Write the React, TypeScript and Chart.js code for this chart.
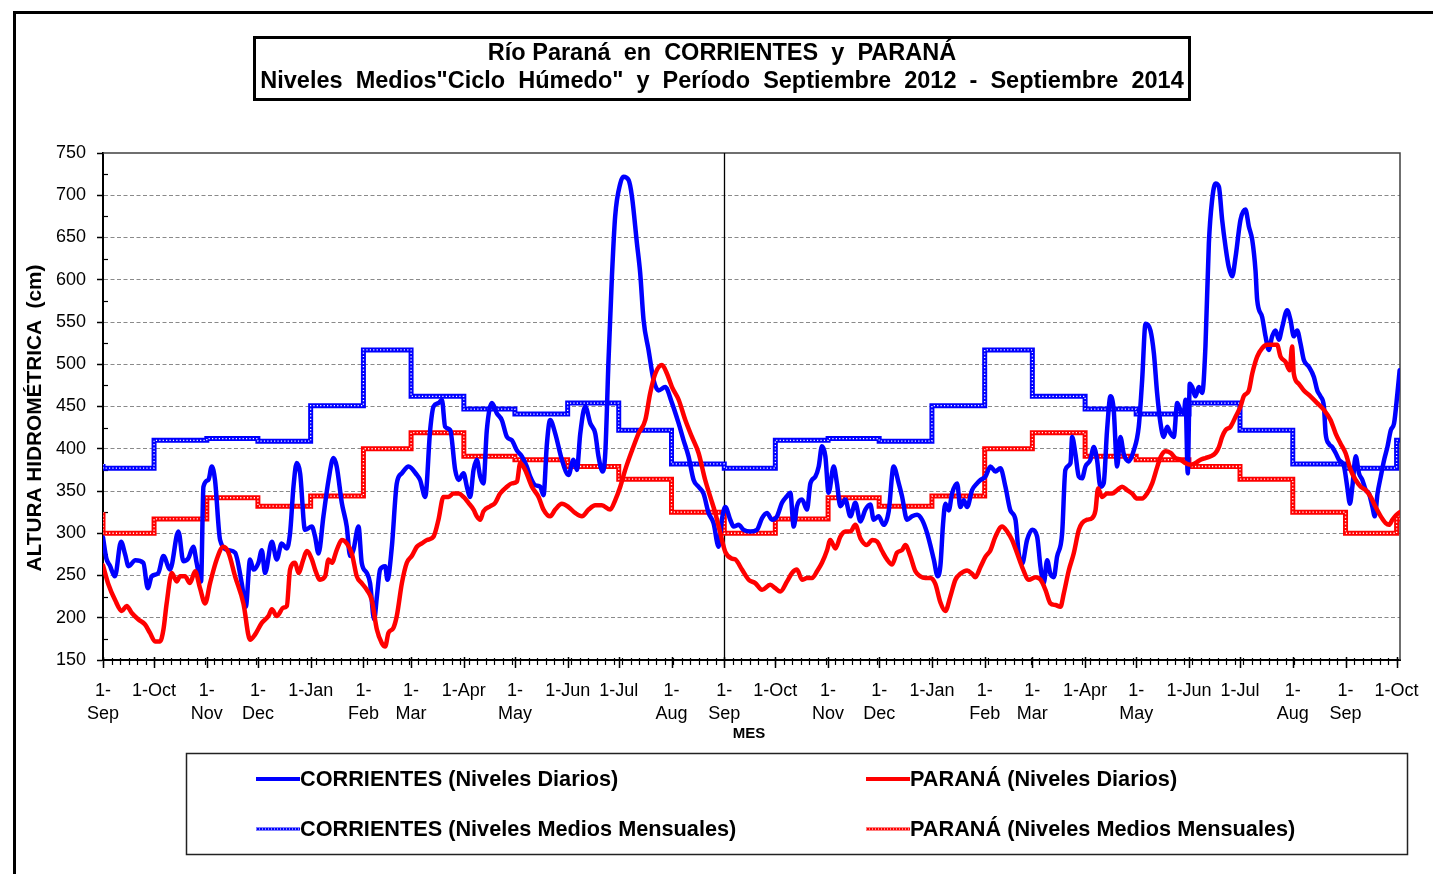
import React, { useEffect, useRef } from "react";
import { Chart, registerables } from "chart.js";

Chart.register(...registerables);

const FONT = "'Liberation Sans', Arial, Helvetica, sans-serif";

// ---- axis definition (days since 1-Sep-2012) ----
const MONTH_START_DAYS = [0, 30, 61, 91, 122, 153, 181, 212, 242, 273, 303, 334, 365, 395, 426, 456, 487, 518, 546, 577, 607, 638, 668, 699, 730, 760];
const X_TICK_LABELS: (string | string[])[] = [
  ["1-", "Sep"], "1-Oct", ["1-", "Nov"], ["1-", "Dec"], "1-Jan", ["1-", "Feb"], ["1-", "Mar"], "1-Apr", ["1-", "May"], "1-Jun", "1-Jul", ["1-", "Aug"],
  ["1-", "Sep"], "1-Oct", ["1-", "Nov"], ["1-", "Dec"], "1-Jan", ["1-", "Feb"], ["1-", "Mar"], "1-Apr", ["1-", "May"], "1-Jun", "1-Jul", ["1-", "Aug"],
  ["1-", "Sep"], "1-Oct",
];
const X_MAX_DAY = 762;
const Y_MIN = 150;
const Y_MAX = 750;
const Y_STEP = 50;

// ---- monthly means of the wet cycle (Sep..Aug) ----
const CORR_MONTHLY_MEAN = [377, 410, 412, 409, 451, 517, 462, 447, 441, 454, 422, 382];
const PAR_MONTHLY_MEAN = [300, 317, 342, 332, 344, 400, 419, 391, 387, 379, 364, 325];

// ---- daily levels, Corrientes ----
const CORR_DAY = [
  0, 2, 4, 7, 10.6, 13, 15, 19, 23.7, 26.3, 28.6, 32.5, 35.5, 39.4, 44.3, 47.2, 50, 53.1, 55, 57.6, 59, 61.9, 63.9, 65.8, 68.8,
  73.7, 77.6, 81.5, 83.9, 86.4, 88.4, 91.3, 93.3, 95.2, 99.2, 102.1, 105, 108, 109.9, 111.9, 113.8, 115.8, 118.7, 122.7, 124.6,
  126.6, 129.5, 132.5, 135.4, 137.3, 140.3, 143.2, 145.2, 147.1, 150.1, 152, 155, 156.9, 159.3, 160.9, 162.8, 165.8, 167.1, 169.7,
  172.6, 175.6, 179.5, 184.4, 186.3, 189.3, 192.2, 194.2, 197.1, 199.1, 201, 204, 206.9, 208.9, 211.8, 213.8, 215.7, 217.7, 219.6,
  221.6, 223.5, 225.5, 228.5, 231.4, 234.3, 237.3, 240.2, 243.2, 246.1, 249, 251, 253.9, 256.9, 258.8, 260.8, 262.7, 265.7, 269.6,
  273.5, 276.4, 278.4, 280.4, 283.3, 286.3, 289.2, 291.1, 293.5, 295.1, 297, 299, 300.9, 303.9, 305.8, 308.8, 310.8, 313.7, 315.6,
  317.6, 320.5, 323.5, 326.4, 330.3, 334.3, 338.2, 341.1, 344, 347, 349.9, 352.8, 355.8, 358.7, 361.7, 363.6, 365.6, 368.5, 370.5,
  373.4, 376.4, 380.3, 384.2, 387.2, 390.1, 393, 396, 398.9, 401.9, 403.8, 405.8, 407.7, 410.7, 413.6, 415.6, 418.5, 420.5, 422.4,
  424.4, 426.3, 429.3, 431.2, 433.2, 436.1, 439.1, 442, 445, 447.9, 450.8, 452.8, 455.7, 458.7, 461.6, 464.5, 467.5, 469.4, 472.4,
  475.3, 478.3, 481.2, 484.2, 488.1, 490.4, 492, 493.5, 494.9, 496.9, 498.8, 501.8, 503.7, 505.7, 507.7, 510.6, 513.5, 515.5, 518.4,
  521.4, 524.3, 527.2, 530.2, 533.1, 536.1, 538, 540, 542.9, 545.9, 548.8, 550.8, 552.7, 554.7, 556.6, 558.6, 560.5, 563.5, 565.4,
  568.4, 569.4, 571.3, 573.3, 575.2, 577.2, 580.1, 582.1, 584, 586, 587.9, 589.9, 591.9, 593.8, 595.8, 597.7, 599.7, 602.6, 605.6,
  608.5, 610.5, 612.5, 615.4, 617.4, 619.3, 621.3, 623.2, 625.2, 627.2, 629.1, 631.1, 633, 635, 636, 637.3, 638.5, 639.9, 641.8,
  643.8, 645.8, 647.7, 649.7, 651.6, 653.6, 655.6, 657.5, 659.5, 661.4, 663.4, 665.4, 668.3, 671.2, 673.2, 675.2, 677.1, 678.1, 681,
  683, 684.9, 686.9, 688.9, 690.8, 692.8, 695.7, 697.7, 699.6, 701.6, 703.5, 705.5, 708.5, 711.4, 713.4, 715.3, 717.3, 718.3, 720.2,
  722.2, 724.2, 726.1, 729.1, 731, 732.6, 734, 736, 737.9, 739.9, 741.9, 743.8, 745.8, 747.2, 748.8, 750.7, 752.7, 754.6, 756.6,
  758.5, 760.5, 761.8,
];
const CORR_LEVEL = [
  295, 270, 262, 249, 290, 275, 261, 268, 265, 235, 249, 253, 273, 257, 302, 267, 270, 284, 265, 243, 355, 363, 379, 363, 292,
  280, 277, 241, 213, 269, 257, 265, 280, 253, 290, 269, 288, 282, 300, 355, 383, 371, 304, 308, 296,
  276, 320, 363, 389, 379, 336, 308, 273, 280, 308, 265, 253, 241, 198, 225, 257, 261, 245, 284,
  359, 371, 379, 369, 363, 343, 422, 450, 454, 458, 426, 422, 375, 363, 371, 355, 343, 375, 387,
  367, 359, 422, 454, 442, 434, 414, 410, 398, 391, 379, 367, 357, 355, 345, 406, 434, 418, 387,
  369, 387, 375, 418, 450, 430, 418, 391, 373, 395, 505, 604, 675, 714, 722, 718, 698, 643, 608,
  552, 517, 481, 469, 473, 454, 430, 410, 391, 363, 355, 347, 324, 312, 284, 316, 331, 316, 308,
  310, 304, 302, 304, 318, 324, 316, 320, 336, 344, 348, 308, 332, 340, 328, 359, 367, 379, 403,
  391, 348, 379, 359, 332, 340, 320, 336, 314, 328, 334, 316, 320, 310, 326, 379, 359, 344, 316,
  320, 322, 316, 300, 269, 249, 262, 310, 335, 327, 347, 359, 331, 339, 331, 351, 359, 363, 367,
  379, 373, 377, 355, 327, 316, 276, 264, 292, 304, 296, 260, 241, 268, 252, 248, 272, 300, 375,
  383, 414, 394, 367, 365, 379, 387, 402, 387, 355, 359, 422, 462, 446, 379, 414, 394, 385, 398,
  426, 481, 548, 540, 513, 466, 430, 414, 426, 418, 414, 454, 446, 442, 458, 371, 477, 473, 462,
  473, 466, 521, 643, 694, 714, 710, 671, 639, 615, 604, 627, 671, 683, 663, 647, 611, 576, 556,
  533, 517, 533, 540, 529, 544, 564, 552, 533, 540, 525, 505, 497, 485, 469, 462, 450, 418, 406,
  402, 395, 387, 379, 355, 335, 355, 391, 371, 363, 351, 347, 331, 320, 347, 367, 387, 402, 422,
  430, 466, 493,
];

// ---- daily levels, Paraná ----
const PAR_DAY = [
  0, 3.1, 7.1, 11, 13.9, 16.8, 20.8, 24.7, 27.6, 30.6, 33.5, 35.5, 37.4, 40.4, 43.3, 45.3, 48.2, 51.1, 54.1, 57, 60, 62.9, 66.8,
  70.7, 73.7, 77.6, 82.5, 86.4, 89.3, 93.3, 97.2, 99.2, 102.1, 106, 108, 109.9, 112.9, 114.8, 117.7, 119.7, 122.7, 124.6, 127.5,
  130.5, 132.5, 134.4, 137.3, 140.3, 143.2, 146.2, 149.1, 152, 155, 157.9, 160.9, 163.8, 165.8, 167.7, 170.6, 172.6, 175.6, 178.5,
  181.4, 184.4, 187.3, 190.3, 194.2, 197.1, 200, 203, 205.9, 208.9, 211.8, 214.7, 217.7, 219.6, 221.6, 223.5, 227.5, 230.4, 233.3,
  237.3, 240.2, 243.2, 245.1, 248, 252, 255.9, 258.8, 262.7, 265.7, 269.6, 273.5, 277.4, 281.4, 285.3, 289.2, 293.1, 298, 300.9,
  303.9, 306.8, 310.8, 314.6, 318.6, 321.5, 324.5, 328.4, 331.3, 334.3, 338.2, 342.1, 346, 349.9, 353.8, 356.8, 359.7, 362.7, 365.6,
  369.5, 371.5, 375.4, 379.3, 383.2, 387.2, 392, 395, 397.9, 401.9, 404.8, 407.7, 410.7, 413.6, 416.6, 419.5, 422.4, 425.4, 427.3,
  430.3, 433.2, 436.1, 439.1, 442, 445, 448.9, 451.8, 454.8, 457.7, 460.6, 463.6, 466.5, 469.4, 471.4, 474.3, 477.3, 480.2, 483.2,
  486.1, 489, 492, 494.9, 497.8, 500.8, 503.7, 507.7, 510.6, 512.5, 515.5, 518.4, 521.4, 524.3, 528.2, 531.2, 534.1, 537.1, 540,
  543.9, 547.9, 550.8, 553.7, 556.6, 559.6, 562.5, 564.5, 567.4, 570.3, 573.3, 575.2, 578.2, 581.1, 583.1, 584.6, 587, 589.9, 592.9,
  595.8, 598.7, 601.7, 604.6, 607.6, 610.5, 613.4, 616.4, 619.3, 621.3, 624.2, 627.2, 630.1, 633, 636, 638.9, 641.8, 644.8, 647.7,
  650.7, 653.6, 655.6, 657.5, 659.5, 662.4, 665.4, 668.3, 670.2, 673.2, 675.2, 678.1, 681, 684, 686.9, 689.8, 691.8, 694.7, 697.2,
  698.6, 699.6, 702.5, 705.5, 709.4, 713.4, 717.3, 721.2, 724.2, 727.1, 730, 733, 736, 738.9, 741.9, 744.8, 747.7, 750.7, 753.6,
  755.6, 757.5, 759.5, 762,
];
const PAR_LEVEL = [
  262, 240, 221, 208, 214, 206, 198, 192, 182, 172, 172, 186, 217, 253, 243, 249, 249, 241, 255, 235, 217, 241, 269,
  284, 277, 249, 217, 174, 180, 194, 202, 210, 202, 212, 214, 257, 265, 253, 269, 279, 269, 257, 245,
  249, 269, 265, 280, 292, 288, 276, 249, 241, 233, 221, 186, 170, 166, 182, 188, 202, 241, 265,
  273, 284, 288, 292, 296, 316, 343, 343, 347, 347, 343, 336, 328, 320, 316, 326, 332, 336, 347,
  355, 359, 361, 383, 375, 355, 343, 328, 320, 328, 335, 331, 324, 320, 328, 333, 333, 328, 339,
  355, 375, 398, 418, 434, 466, 489, 499, 489, 473, 458, 434, 414, 395, 363, 343, 324, 300, 278,
  270, 269, 257, 245, 241, 233, 239, 235, 231, 243, 253, 257, 245, 247, 247, 255, 265, 280, 292,
  282, 296, 302, 302, 310, 294, 286, 292, 290, 279, 269, 263, 277, 280, 286, 273, 255, 249, 247,
  247, 240, 218, 208, 225, 245, 252, 256, 252, 248, 260, 272, 280, 296, 308, 302, 292, 276, 260,
  245, 248, 245, 233, 217, 215, 213, 229, 256, 276, 304, 312, 316, 318, 327, 353, 343, 347, 347,
  351, 355, 351, 347, 341, 341, 347, 359, 378, 390, 397, 395, 389, 387, 383, 381, 383, 387, 389,
  391, 395, 402, 414, 422, 426, 438, 450, 462, 469, 489, 509, 519, 523, 523, 523, 509, 503, 493,
  521, 489, 477, 469, 462, 454, 446, 434, 418, 406, 395, 375, 363, 355, 351, 343, 331, 320, 312,
  310, 316, 321, 325,
];

const TITLE_LINES = [
  "Río Paraná  en  CORRIENTES  y  PARANÁ",
  'Niveles  Medios"Ciclo  Húmedo"  y  Período  Septiembre  2012  -  Septiembre  2014',
];
const Y_TITLE = "ALTURA HIDROMÉTRICA  (cm)";
const X_TITLE = "MES";
const NAME_CORR_DAILY = "CORRIENTES (Niveles Diarios)";
const NAME_PAR_DAILY = "PARANÁ (Niveles Diarios)";
const NAME_CORR_MONTHLY = "CORRIENTES (Niveles Medios Mensuales)";
const NAME_PAR_MONTHLY = "PARANÁ (Niveles Medios Mensuales)";

const BLUE = "#0000FF";
const RED = "#FF0000";

function dailyPoints(days: number[], levels: number[]) {
  return days.map((d, i) => ({ x: d, y: levels[i] }));
}

function monthlySteps(means: number[]) {
  const pts = [{ x: MONTH_START_DAYS[0], y: means[11] }];
  MONTH_START_DAYS.forEach((d, i) => pts.push({ x: d, y: means[i % 12] }));
  pts.push({ x: X_MAX_DAY, y: means[(MONTH_START_DAYS.length - 1) % 12] });
  return pts;
}

function strokeLine(ctx: CanvasRenderingContext2D, x1: number, y1: number, x2: number, y2: number) {
  ctx.beginPath();
  ctx.moveTo(x1, y1);
  ctx.lineTo(x2, y2);
  ctx.stroke();
}

function legendSample(ctx: CanvasRenderingContext2D, x1: number, x2: number, y: number, color: string, dotted: boolean) {
  ctx.save();
  ctx.strokeStyle = color;
  ctx.lineCap = "butt";
  if (dotted) {
    ctx.lineWidth = 3;
    strokeLine(ctx, x1, y, x2, y);
    ctx.strokeStyle = "#fff";
    ctx.lineWidth = 1;
    ctx.setLineDash([1, 2]);
    strokeLine(ctx, x1, y, x2, y);
  } else {
    ctx.lineWidth = 4;
    strokeLine(ctx, x1, y, x2, y);
  }
  ctx.restore();
}

const decorPlugin = {
  id: "decor",
  beforeDraw(chart: any) {
    const { ctx, width, height } = chart;
    ctx.save();
    ctx.fillStyle = "#fff";
    ctx.fillRect(0, 0, width, height);
    ctx.restore();
  },
  beforeDatasetsDraw(chart: any) {
    const { ctx, chartArea: ca, scales } = chart;
    const xs = scales.x;
    const ys = scales.y;
    ctx.save();
    ctx.strokeStyle = "#404040";
    ctx.lineWidth = 1.5;
    ctx.beginPath();
    ctx.moveTo(ca.left, ca.top);
    ctx.lineTo(ca.right, ca.top);
    ctx.lineTo(ca.right, ca.bottom);
    ctx.stroke();

    // separator at the start of the second cycle
    const sx = Math.round(xs.getPixelForValue(MONTH_START_DAYS[12])) + 0.5;
    ctx.strokeStyle = "#000";
    ctx.lineWidth = 1.3;
    strokeLine(ctx, sx, ca.top, sx, ca.bottom);

    // minor y ticks (inside)
    ctx.lineWidth = 1.2;
    for (let v = Y_MIN + Y_STEP / 2; v < Y_MAX; v += Y_STEP) {
      const py = Math.round(ys.getPixelForValue(v)) + 0.5;
      strokeLine(ctx, ca.left, py, ca.left + 5, py);
    }
    // minor x ticks
    for (let d = 0; d <= X_MAX_DAY; d += 5) {
      const px = Math.round(xs.getPixelForValue(d)) + 0.5;
      strokeLine(ctx, px, ca.bottom - 2, px, ca.bottom + 5);
    }
    ctx.lineWidth = 1.5;
    for (const d of MONTH_START_DAYS) {
      const px = Math.round(xs.getPixelForValue(d)) + 0.5;
      strokeLine(ctx, px, ca.bottom - 3, px, ca.bottom + 8);
    }
    ctx.restore();
  },
  afterDraw(chart: any) {
    const { ctx, chartArea: ca } = chart;
    ctx.save();
    // outer frame
    ctx.strokeStyle = "#000";
    ctx.lineWidth = 3;
    ctx.strokeRect(14.5, 12.5, 1500, 1000);

    // title box
    ctx.lineWidth = 3;
    ctx.strokeRect(254.5, 37.5, 935, 62);
    ctx.fillStyle = "#000";
    ctx.textAlign = "center";
    ctx.textBaseline = "middle";
    ctx.font = `bold 23.5px ${FONT}`;
    ctx.fillText(TITLE_LINES[0], 722, 54);
    ctx.fillText(TITLE_LINES[1], 722, 82);

    // y axis title
    ctx.save();
    ctx.translate(35, 418);
    ctx.rotate(-Math.PI / 2);
    ctx.font = `bold 20.8px ${FONT}`;
    ctx.fillText(Y_TITLE, 0, 0);
    ctx.restore();

    // x axis title
    ctx.font = `bold 15px ${FONT}`;
    ctx.fillText(X_TITLE, 749, 734);

    // legend
    ctx.strokeStyle = "#222";
    ctx.lineWidth = 1.5;
    ctx.strokeRect(186.5, 753.5, 1221, 101);
    const ds = chart.data.datasets;
    const byLabel = (l: string) => ds.find((d: any) => d.label === l);
    const items = [
      { name: NAME_CORR_DAILY, x: 256, y: 779, dotted: false },
      { name: NAME_PAR_DAILY, x: 866, y: 779, dotted: false },
      { name: NAME_CORR_MONTHLY, x: 256, y: 829, dotted: true },
      { name: NAME_PAR_MONTHLY, x: 866, y: 829, dotted: true },
    ];
    ctx.font = `bold 21.7px ${FONT}`;
    ctx.textAlign = "left";
    for (const it of items) {
      const d = byLabel(it.name);
      legendSample(ctx, it.x, it.x + 44, it.y, d ? d.borderColor : "#000", it.dotted);
      ctx.fillStyle = "#000";
      ctx.fillText(it.name, it.x + 44, it.y + 1);
    }
    ctx.restore();
  },
};

export default function App() {
  const ref = useRef<HTMLCanvasElement>(null);
  useEffect(() => {
    if (!ref.current) return;
    Chart.defaults.font.family = FONT;
    const corrMonthly = monthlySteps(CORR_MONTHLY_MEAN);
    const parMonthly = monthlySteps(PAR_MONTHLY_MEAN);
    const chart = new Chart(ref.current, {
      type: "line",
      data: {
        datasets: [
          {
            label: NAME_PAR_DAILY,
            data: dailyPoints(PAR_DAY, PAR_LEVEL),
            borderColor: RED,
            borderWidth: 4.5,
            pointRadius: 0,
            cubicInterpolationMode: "monotone",
            borderJoinStyle: "round",
            borderCapStyle: "round",
            order: 0,
          },
          {
            label: NAME_CORR_DAILY,
            data: dailyPoints(CORR_DAY, CORR_LEVEL),
            borderColor: BLUE,
            borderWidth: 4.5,
            pointRadius: 0,
            cubicInterpolationMode: "monotone",
            borderJoinStyle: "round",
            borderCapStyle: "round",
            order: 1,
          },
          {
            label: "par-dots",
            data: parMonthly,
            borderColor: "#fff",
            borderWidth: 1.3,
            borderDash: [1.2, 2.2],
            pointRadius: 0,
            stepped: "before",
            order: 2,
          },
          {
            label: NAME_PAR_MONTHLY,
            data: parMonthly,
            borderColor: RED,
            borderWidth: 5,
            pointRadius: 0,
            stepped: "before",
            order: 3,
          },
          {
            label: "corr-dots",
            data: corrMonthly,
            borderColor: "#fff",
            borderWidth: 1.3,
            borderDash: [1.2, 2.2],
            pointRadius: 0,
            stepped: "before",
            order: 4,
          },
          {
            label: NAME_CORR_MONTHLY,
            data: corrMonthly,
            borderColor: BLUE,
            borderWidth: 5,
            pointRadius: 0,
            stepped: "before",
            order: 5,
          },
        ],
      } as any,
      options: {
        responsive: false,
        animation: false,
        devicePixelRatio: 1,
        events: [],
        layout: { padding: { top: 153, right: 33, bottom: 0, left: 0 } },
        plugins: {
          legend: { display: false },
          title: { display: false },
          tooltip: { enabled: false },
        },
        scales: {
          x: {
            type: "linear",
            min: 0,
            max: X_MAX_DAY,
            afterFit: (s: any) => {
              s.height = 214;
              s.paddingLeft = 0;
              s.paddingRight = 0;
            },
            afterBuildTicks: (s: any) => {
              s.ticks = MONTH_START_DAYS.map((v) => ({ value: v }));
            },
            grid: { display: false },
            border: { display: true, color: "#000", width: 2 },
            ticks: {
              autoSkip: false,
              maxRotation: 0,
              minRotation: 0,
              padding: 12,
              color: "#000",
              font: { size: 18, lineHeight: 1.25, family: FONT },
              callback: (_v: any, i: number) => X_TICK_LABELS[i],
            },
          },
          y: {
            min: Y_MIN,
            max: Y_MAX,
            afterFit: (s: any) => {
              s.width = 103;
              s.paddingTop = 0;
              s.paddingBottom = 0;
            },
            grid: {
              color: (c: any) => (c.tick && (c.tick.value === Y_MIN || c.tick.value === Y_MAX) ? "rgba(0,0,0,0)" : "#8a8a8a"),
              lineWidth: 1,
              drawTicks: true,
              tickLength: 6,
              tickColor: "#000",
              tickWidth: 1.5,
            },
            border: { display: true, color: "#000", width: 2, dash: [4, 2.5] },
            ticks: {
              stepSize: Y_STEP,
              padding: 11,
              color: "#000",
              font: { size: 18, family: FONT },
            },
          },
        },
      } as any,
      plugins: [decorPlugin],
    });
    return () => chart.destroy();
  }, []);
  return (
    <div style={{ position: "fixed", left: 0, top: 0, width: 1433, height: 874, background: "#fff" }}>
      <canvas ref={ref} width={1433} height={874} style={{ display: "block", width: 1433, height: 874 }} />
    </div>
  );
}
